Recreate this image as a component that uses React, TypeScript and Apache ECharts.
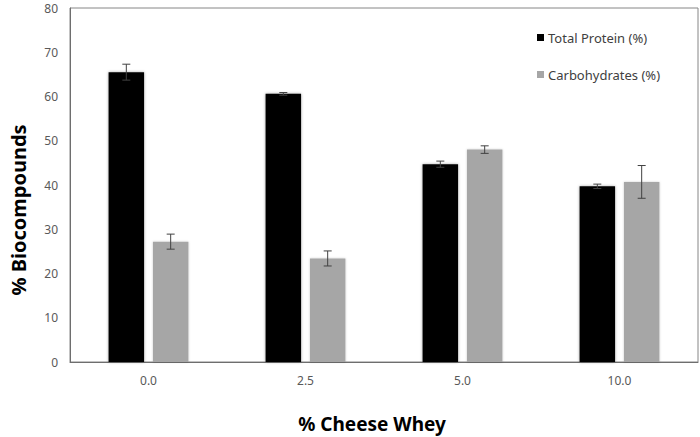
import React, { useEffect, useRef } from "react";
import * as echarts from "echarts";

const categories = ["0.0", "2.5", "5.0", "10.0"];
const proteinValues = [65.5, 60.6, 44.7, 39.7];
const proteinErrors = [1.8, 0.3, 0.7, 0.5];
const carbValues = [27.2, 23.4, 48.0, 40.7];
const carbErrors = [1.7, 1.7, 0.85, 3.7];
const yTicks = [0, 10, 20, 30, 40, 50, 60, 70, 80];

const BAR_W = 0.226;
const BAR_GAP = 0.25;

export default function App() {
  const ref = useRef<HTMLDivElement>(null);
  useEffect(() => {
    if (!ref.current) return;
    const chart = echarts.init(ref.current, undefined, { renderer: "svg" });

    const errRender = (sign: number) => (params: any, api: any) => {
      const idx = api.value(0);
      const mean = api.value(1);
      const err = api.value(2);
      const band = api.size([1, 0])[0];
      const w = band * BAR_W;
      const off = sign * (w * (1 + BAR_GAP)) / 2;
      const top = api.coord([idx, mean + err]);
      const bot = api.coord([idx, mean - err]);
      const x = top[0] + off;
      const cap = 4;
      const style = { stroke: "#404040", lineWidth: 1, fill: "none" };
      return {
        type: "group",
        children: [
          { type: "line", shape: { x1: x, y1: top[1], x2: x, y2: bot[1] }, style },
          { type: "line", shape: { x1: x - cap, y1: top[1], x2: x + cap, y2: top[1] }, style },
          { type: "line", shape: { x1: x - cap, y1: bot[1], x2: x + cap, y2: bot[1] }, style },
        ],
      };
    };

    chart.setOption({
      animation: false,
      backgroundColor: "#ffffff",
      grid: {
        left: 70,
        top: 8,
        right: 2,
        bottom: 75,
        show: true,
        borderColor: "#868686",
        borderWidth: 1,
      },
      legend: {
        data: ["Total Protein (%)", "Carbohydrates (%)"],
        orient: "vertical",
        left: 532,
        top: 26,
        itemWidth: 7,
        itemHeight: 7,
        itemGap: 24,
        itemStyle: { borderWidth: 0 },
        icon: "rect",
        textStyle: { color: "#404040", fontSize: 13, fontFamily: "Noto Sans", padding: [0, 0, 0, -1] },
      },
      xAxis: {
        type: "category",
        data: categories,
        axisLine: { show: true, lineStyle: { color: "#6e6e6e" } },
        axisTick: { show: false },
        axisLabel: { color: "#595959", fontSize: 12, fontFamily: "Noto Sans", margin: 12 },
      },
      yAxis: {
        type: "value",
        min: yTicks[0],
        max: yTicks[yTicks.length - 1],
        interval: 10,
        splitLine: { show: false },
        axisLine: { show: true, lineStyle: { color: "#6e6e6e" } },
        axisTick: { show: false },
        axisLabel: { color: "#595959", fontSize: 12, fontFamily: "Noto Sans", margin: 12 },
      },
      graphic: [
        {
          type: "text",
          x: 18,
          y: 210,
          rotation: Math.PI / 2,
          style: {
            text: "% Biocompounds",
            font: "bold 20px 'Noto Sans'",
            fill: "#000000",
            align: "center",
            verticalAlign: "middle",
          },
        },
        {
          type: "text",
          x: 372,
          y: 424,
          style: {
            text: "% Cheese Whey",
            font: "bold 19px 'Noto Sans'",
            fill: "#000000",
            align: "center",
            verticalAlign: "middle",
          },
        },
      ],
      series: [
        {
          name: "Total Protein (%)",
          type: "bar",
          data: proteinValues,
          barWidth: `${BAR_W * 100}%`,
          barGap: `${BAR_GAP * 100}%`,
          itemStyle: { color: "#000000", shadowBlur: 3, shadowColor: "rgba(0,0,0,0.35)" },
        },
        {
          name: "Carbohydrates (%)",
          type: "bar",
          data: carbValues,
          barWidth: `${BAR_W * 100}%`,
          barGap: `${BAR_GAP * 100}%`,
          itemStyle: { color: "#a6a6a6", shadowBlur: 2, shadowColor: "rgba(0,0,0,0.2)" },
        },
        {
          type: "custom",
          renderItem: errRender(-1),
          data: proteinValues.map((v, i) => [i, v, proteinErrors[i]]),
          encode: { x: 0, y: 1 },
          z: 10,
          silent: true,
        },
        {
          type: "custom",
          renderItem: errRender(1),
          data: carbValues.map((v, i) => [i, v, carbErrors[i]]),
          encode: { x: 0, y: 1 },
          z: 10,
          silent: true,
        },
      ],
    });
    return () => chart.dispose();
  }, []);
  return <div ref={ref} style={{ width: 700, height: 437, position: "fixed", left: 0, top: 0 }} />;
}
